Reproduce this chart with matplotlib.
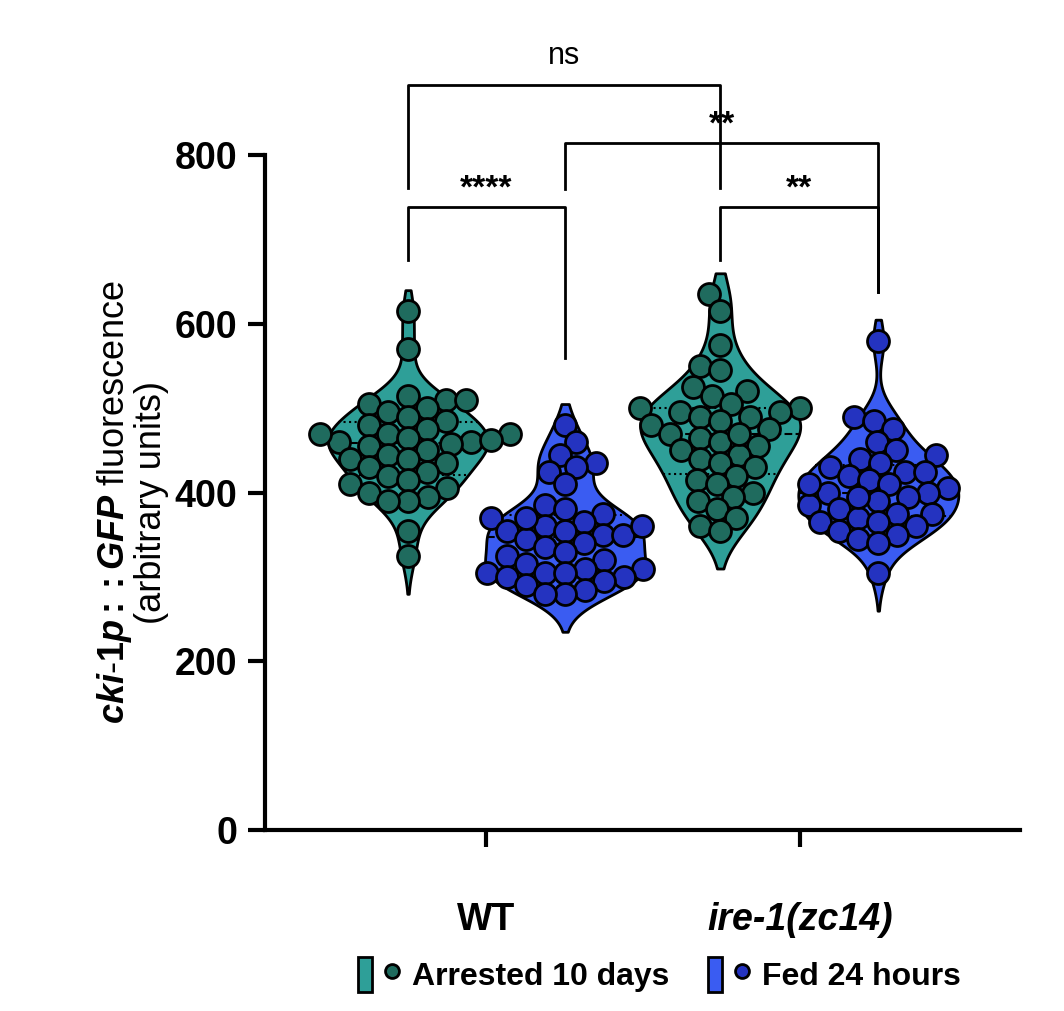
import numpy as np
import matplotlib.pyplot as plt
from matplotlib.patches import Patch
from matplotlib.lines import Line2D
from matplotlib.legend_handler import HandlerTuple

plt.rcParams['font.family'] = 'Liberation Sans'
plt.rcParams['font.weight'] = 'bold'
plt.rcParams['mathtext.fontset'] = 'custom'
plt.rcParams['mathtext.it'] = 'Liberation Sans:italic:bold'
plt.rcParams['mathtext.rm'] = 'Liberation Sans:bold'

wt_arrested = [615, 570, 515, 510, 510, 505, 500, 495, 490, 485, 480, 475, 470, 470, 465, 460, 460, 458,
               455, 450, 445, 440, 440, 435, 430, 425, 420, 415, 410, 405, 400, 395, 390, 390, 355, 325, 470, 462]
wt_fed = [480, 460, 445, 435, 430, 425, 410, 385, 380, 375, 370, 365, 360, 355, 355, 350, 350, 345, 340,
          335, 330, 325, 320, 315, 310, 310, 305, 305, 305, 300, 300, 295, 290, 285, 280, 280, 370, 360]
ire_arrested = [635, 615, 575, 550, 545, 525, 520, 515, 505, 500, 500, 495, 495, 490, 490, 485, 480, 475,
                470, 465, 460, 455, 450, 445, 440, 435, 430, 420, 415, 410, 400, 395, 390, 380, 370, 360, 355, 470]
ire_fed = [580, 490, 485, 475, 460, 450, 445, 440, 435, 430, 425, 425, 420, 415, 410, 405, 400, 400, 395,
           390, 385, 380, 375, 375, 370, 365, 365, 360, 355, 350, 345, 340, 305, 410, 395]
groups = [wt_arrested, wt_fed, ire_arrested, ire_fed]
genotypes = ['WT', 'ire-1(zc14)']
conditions = ['Arrested 10 days', 'Fed 24 hours']

pos = [143, 300, 455, 613]
fill_c = ['#2e9f98', '#3a5cf2']
dot_c = ['#1f6b5e', '#2433c0']
yscale = 0.84375  # px per unit

fig = plt.figure(figsize=(10.64, 10.11), dpi=100)
ax = fig.add_axes([0.249, 0.179, 0.71, 0.811])
ax.set_xlim(0, 755)
ax.set_ylim(0, 972)

for i, d in enumerate(groups):
    d = np.array(d, float)
    x0 = pos[i]
    col = i % 2
    bw = 0.45 * d.std() * len(d) ** -0.2 * 2
    ys = np.linspace(d.min() - 45, d.max() + 25, 300)
    dens = np.exp(-0.5 * ((ys[:, None] - d[None, :]) / bw) ** 2).sum(1)
    w = dens / dens.max() * 80
    ax.fill_betweenx(ys, x0 - w, x0 + w, color=fill_c[col], ec='black', lw=2, zorder=2)
    for q, ls in [(50, '--'), (25, ':'), (75, ':')]:
        v = np.percentile(d, q)
        ww = np.interp(v, ys, w)
        ax.plot([x0 - ww, x0 + ww], [v, v], color='black', ls=ls, lw=1.5, zorder=3)
    # simple beeswarm in pixel space
    r = 20
    placed = []
    order = np.argsort(d)
    xs = np.zeros(len(d))
    for k in order:
        yp = d[k] * yscale
        best = 0.0
        for off in sorted(np.arange(-200, 201, 1.0), key=abs):
            if all((off - px) ** 2 + (yp - py) ** 2 >= r ** 2 for px, py in placed):
                best = off
                break
        placed.append((best, yp))
        xs[k] = x0 + best
    ax.scatter(xs, d, s=250, c=dot_c[col], edgecolors='black', linewidths=2, zorder=4)

for s in ['top', 'right']:
    ax.spines[s].set_visible(False)
ax.spines['left'].set_bounds(0, 800)
ax.spines['left'].set_linewidth(3)
ax.spines['bottom'].set_linewidth(3)
ax.set_yticks([0, 200, 400, 600, 800])
ax.set_xticks([221, 535])
ax.set_xticklabels(genotypes, fontsize=27)
ax.get_xticklabels()[1].set_style('italic')
ax.tick_params(width=3, length=12, labelsize=27, pad=8)
ax.tick_params(axis='x', pad=40)
ax.set_ylabel('$\\it{cki}$-$\\it{1p::GFP}$ fluorescence\n(arbitrary units)', fontsize=26,
              linespacing=1.0, y=0.4)


def bracket(x1, x2, y, l1, l2, text, ty):
    ax.plot([x1, x1, x2, x2], [l1, y, y, l2], color='black', lw=2, clip_on=False)
    ax.text((x1 + x2) / 2, ty, text, ha='center', va='center', fontsize=24 if text != 'ns' else 22,
            fontweight='bold' if text != 'ns' else 'normal', clip_on=False)


bracket(143, 455, 883, 761, 761, 'ns', 918)
bracket(300, 613, 814, 760, 638, '**', 836)
bracket(143, 300, 738, 676, 560, '****', 760)
bracket(455, 613, 738, 676, 638, '**', 760)

handles = [(Patch(fc=fill_c[j], ec='black', lw=2),
            Line2D([], [], marker='o', ls='', ms=10, mfc=dot_c[j], mec='black', mew=2)) for j in range(2)]
fig.legend(handles, conditions, handler_map={tuple: HandlerTuple(ndivide=None)}, loc='lower center',
           bbox_to_anchor=(0.62, -0.01), ncol=2, frameon=False, fontsize=23, handlelength=1.3,
           handleheight=1.3, columnspacing=1.2, handletextpad=0.4)

fig.savefig('out.png', dpi=100)
